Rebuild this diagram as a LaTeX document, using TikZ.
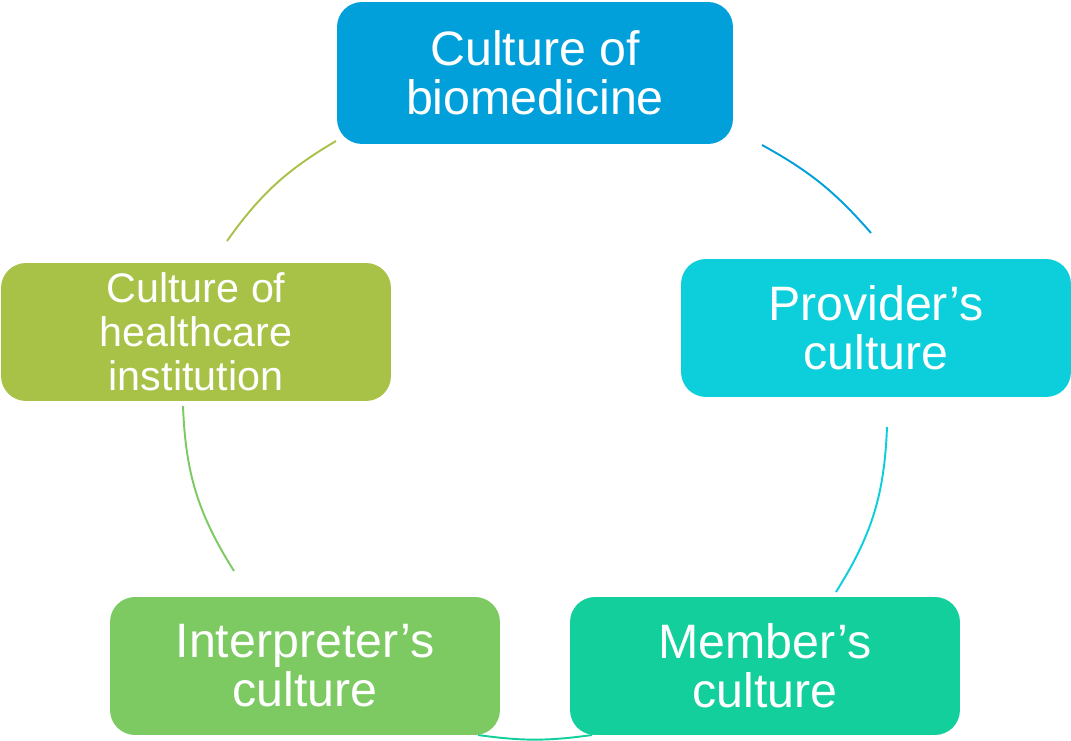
\documentclass[tikz,border=0pt]{standalone}
\usepackage{fontspec}
\setmainfont{Liberation Sans}
\definecolor{biomed}{HTML}{02A0DB}
\definecolor{provider}{HTML}{0CCFDB}
\definecolor{member}{HTML}{12CF9B}
\definecolor{interp}{HTML}{7DCA63}
\definecolor{instit}{HTML}{A8C248}
\tikzset{culture/.style={
    rounded corners=0.5cm,
    text=white,
    align=center,
    minimum width=7.8cm,
    minimum height=2.76cm,
    font=\fontsize{27.5}{28}\selectfont}}
\tikzset{cyclearc/.style={
    line width=1.1pt}}

\begin{document}
\begin{tikzpicture}[x=0.02cm,y=0.02cm]
\useasboundingbox (0,0) rectangle (1071,740);

\coordinate (a1) at (762,595);
\coordinate (b1) at (871,507);
\coordinate (a2) at (887,313);
\coordinate (b2) at (836,148);
\coordinate (a3) at (592,5);
\coordinate (b3) at (478,5);
\coordinate (a4) at (234,169);
\coordinate (b4) at (183,334);
\coordinate (a5) at (227,499);
\coordinate (b5) at (336,599);

\draw[cyclearc,draw=biomed] (a1) to[bend left=10] (b1);
\draw[cyclearc,draw=provider] (a2) to[bend left=15] (b2);
\draw[cyclearc,draw=member] (a3) to[bend left=8] (b3);
\draw[cyclearc,draw=interp] (a4) to[bend left=15] (b4);
\draw[cyclearc,draw=instit] (a5) to[bend left=12] (b5);

	\node[culture,fill=biomed,minimum width=7.92cm,minimum height=2.84cm] (biomed) at (535,667) {Culture of\\biomedicine};
	\node[culture,fill=provider] (provider) at (876,412) {Provider’s\\culture};
	\node[culture,fill=member] (member) at (765,74) {Member’s\\culture};
	\node[culture,fill=interp] (interp) at (305,74) {Interpreter’s\\culture};
	\node[culture,fill=instit,font=\fontsize{23.5}{25}\selectfont] (instit) at (196,408) {Culture of\\healthcare\\institution};
\end{tikzpicture}
\end{document}
